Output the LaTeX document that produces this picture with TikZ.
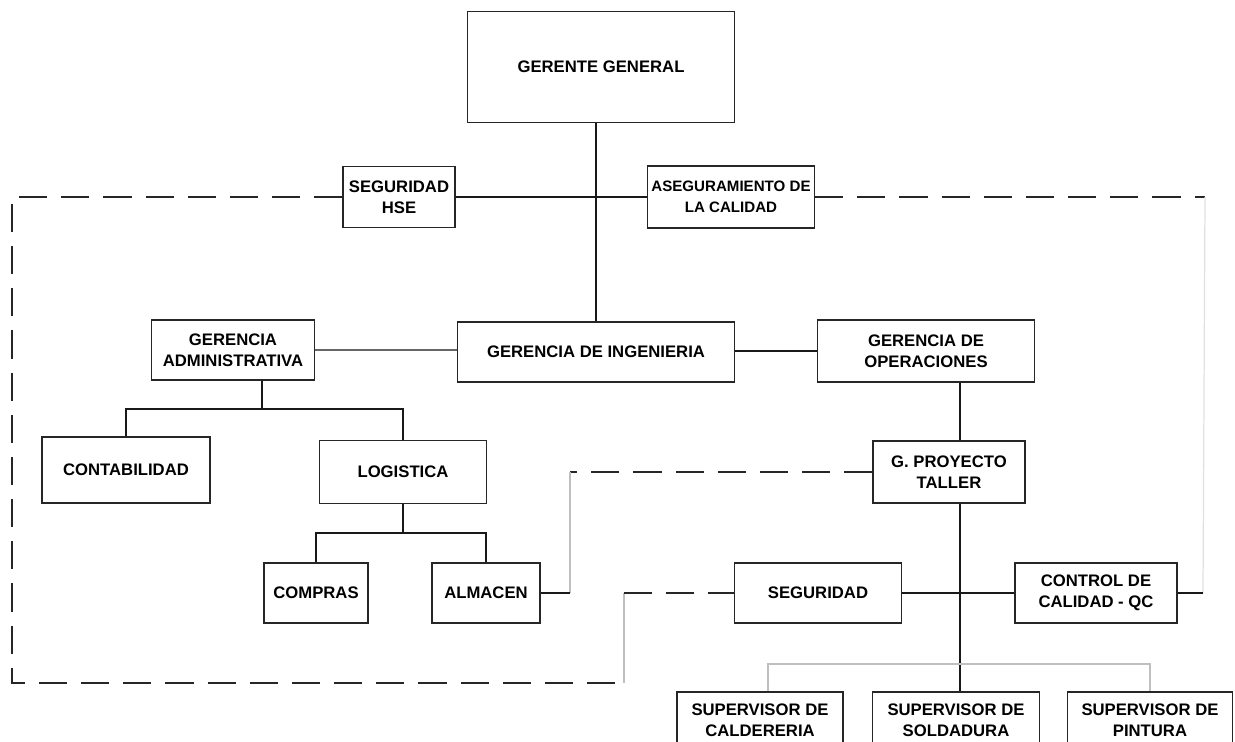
\documentclass[tikz,border=0pt]{standalone}
\usepackage{fontspec}
\setmainfont{Liberation Sans}
\begin{document}
\begin{tikzpicture}[x=0.02cm, y=-0.02cm,
  caja/.style={draw=black!85, line width=0.7pt, fill=white, align=center, inner sep=1pt, font=\fontsize{9.5}{12}\selectfont\bfseries},
  linea/.style={draw=black!90, line width=0.9pt},
  tenue/.style={draw=black!25, line width=0.7pt},
  guion/.style={draw=black!85, line width=0.9pt, dash pattern=on 16pt off 8pt}]
\useasboundingbox (0,0) rectangle (1235,742);
\clip (0,0) rectangle (1235,742);
% cajas
\node[caja, minimum width=5.34cm, minimum height=2.22cm] (gg) at (601,67) {GERENTE GENERAL};
\node[caja, minimum width=2.24cm, minimum height=1.22cm] (hse) at (399,197) {SEGURIDAD\\HSE};
\node[caja, minimum width=3.34cm, minimum height=1.24cm, font=\fontsize{8.6}{12}\selectfont\bfseries] (aseg) at (731,197) {ASEGURAMIENTO DE\\LA CALIDAD};
\node[caja, minimum width=5.54cm, minimum height=1.20cm] (ging) at (596,352) {GERENCIA DE INGENIERIA};
\node[caja, minimum width=3.26cm, minimum height=1.20cm] (gadm) at (233,350) {GERENCIA\\ADMINISTRATIVA};
\node[caja, minimum width=4.34cm, minimum height=1.24cm] (gop) at (926,351) {GERENCIA DE\\OPERACIONES};
\node[caja, minimum width=3.36cm, minimum height=1.32cm] (cont) at (126,470) {CONTABILIDAD};
\node[caja, minimum width=3.34cm, minimum height=1.26cm] (log) at (403,472) {LOGISTICA};
\node[caja, minimum width=2.08cm, minimum height=1.20cm] (comp) at (316,593) {COMPRAS};
\node[caja, minimum width=2.16cm, minimum height=1.20cm] (alm) at (486,593) {ALMACEN};
\node[caja, minimum width=3.04cm, minimum height=1.24cm] (gpt) at (949,472) {G. PROYECTO\\TALLER};
\node[caja, minimum width=3.34cm, minimum height=1.20cm] (seg) at (818,593) {SEGURIDAD};
\node[caja, minimum width=3.24cm, minimum height=1.20cm] (qc) at (1096,593) {CONTROL DE\\CALIDAD - QC};
\node[caja, minimum width=3.32cm, minimum height=1.12cm] (scal) at (760,720) {SUPERVISOR DE\\CALDERERIA};
\node[caja, minimum width=3.34cm, minimum height=1.12cm] (ssol) at (956,720) {SUPERVISOR DE\\SOLDADURA};
\node[caja, minimum width=3.30cm, minimum height=1.12cm] (spin) at (1150,720) {SUPERVISOR DE\\PINTURA};
% puntos de quiebre
\coordinate (ra) at (262,409);
\coordinate (rl) at (403,533);
\coordinate (ejeop) at (960,0);
\coordinate (rs) at (960,664);
\coordinate (rc) at (768,0);
\coordinate (izq1) at (12,197);
\coordinate (izq2) at (12,683);
\coordinate (izq3) at (624,683);
\coordinate (izq4) at (624,593);
\coordinate (der1) at (1205,197);
\coordinate (der2) at (1203,593);
\coordinate (alm1) at (570,472);
\coordinate (alm2) at (570,593);
% lineas de mando
\path[linea] (ging.north) -- (ging.north |- gg.south);
\path[linea] (hse.east) -- (aseg.west);
\path[draw=black!60, line width=0.8pt] (gadm.east) -- (gadm.east -| ging.west);
\path[linea] (ging.east |- gop) -- (gop.west);
\path[linea] (gadm.south -| ra) -- (ra);
\path[linea] (cont.north) |- (ra) -| (log.north);
\path[linea] (log.south) -- (rl);
\path[linea] (comp.north) |- (rl) -| (alm.north);
\path[linea] (gop.south -| ejeop) -- (gpt.north -| ejeop);
\path[linea] (gpt.south -| ejeop) -- (ssol.north -| ejeop);
\path[linea] (seg.east) -- (qc.west);
\path[tenue] (scal.north -| rc) |- (rs) -| (spin.north);
% lineas de coordinacion
\path[guion] (hse.west) -- (izq1) -- (izq2) -- (izq3);
\path[tenue] (izq3) -- (izq4);
\path[guion] (izq4) -- (seg.west);
\path[guion] (aseg.east) -- (der1);
\path[draw=black!12, line width=0.7pt] (der1) -- (der2);
\path[linea] (der2) -- (qc.east);
\path[guion] (gpt.west) -- (alm1);
\path[tenue] (alm1) -- (alm2);
\path[linea] (alm2) -- (alm.east);
\end{tikzpicture}
\end{document}
